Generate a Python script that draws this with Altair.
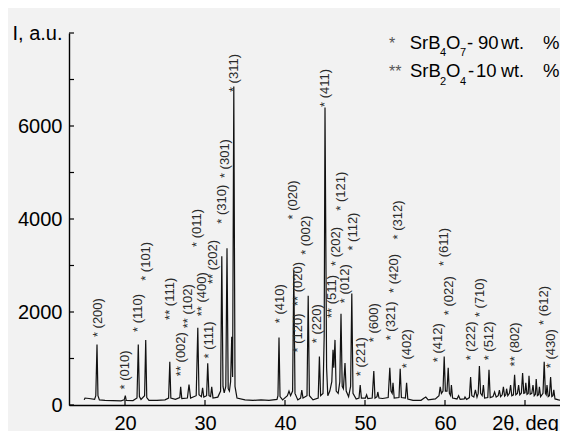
import altair as alt
import pandas as pd

# XRD pattern vertices (2theta, intensity)
pattern = [
    (14.9, 110), (15.0, 150), (15.5, 140), (16.2, 120), (16.35, 200), (16.5, 1300), (16.62, 200), (16.8, 110),
    (17.5, 100), (18.5, 95), (19.5, 90), (19.9, 110), (20.04, 200), (20.15, 100), (21.0, 95), (21.5, 150),
    (21.66, 1300), (21.8, 180), (22.0, 120), (22.45, 200), (22.59, 1400), (22.72, 160), (23.0, 100), (24.0, 100),
    (25.0, 110), (25.45, 150), (25.6, 930), (25.73, 150), (26.3, 120), (26.85, 160), (26.96, 390), (27.1, 140),
    (27.8, 150), (28.0, 440), (28.2, 150), (28.9, 200), (29.1, 1660), (29.25, 220), (29.55, 180), (29.7, 370),
    (29.85, 170), (30.2, 200), (30.34, 900), (30.5, 200), (30.7, 180), (30.84, 390), (31.0, 150), (31.6, 170),
    (31.95, 300), (32.1, 3200), (32.25, 400), (32.4, 260), (32.6, 400), (32.75, 3370), (32.9, 350), (33.05, 300),
    (33.2, 500), (33.34, 1470), (33.45, 600), (33.6, 6850), (33.75, 400), (34.0, 150), (35.0, 110), (36.0, 100),
    (37.0, 110), (38.0, 100), (39.0, 120), (39.12, 200), (39.25, 1450), (39.38, 180), (39.7, 110), (40.3, 200),
    (40.5, 300), (40.7, 200), (40.95, 300), (41.1, 2900), (41.25, 250), (41.6, 110), (41.95, 150), (42.1, 320),
    (42.25, 150), (42.75, 200), (42.9, 2350), (43.05, 200), (43.5, 110), (44.15, 150), (44.3, 1040), (44.45, 200),
    (44.75, 250), (44.9, 1500), (45.0, 6400), (45.1, 3600), (45.2, 800), (45.35, 200), (45.6, 300), (45.85, 500),
    (46.0, 1190), (46.1, 800), (46.25, 1400), (46.4, 300), (46.65, 250), (46.85, 500), (47.0, 1960), (47.15, 400),
    (47.3, 350), (47.5, 900), (47.65, 300), (47.95, 180), (48.2, 400), (48.35, 2400), (48.5, 250), (48.9, 130),
    (49.25, 150), (49.4, 430), (49.55, 150), (50.05, 150), (50.2, 220), (50.35, 140), (50.9, 150), (51.1, 730),
    (51.25, 150), (51.5, 180), (51.6, 280), (51.75, 150), (52.2, 140), (52.9, 160), (53.1, 800), (53.25, 300),
    (53.4, 250), (53.5, 475), (53.65, 150), (54.25, 160), (54.4, 780), (54.55, 160), (55.05, 150), (55.2, 475),
    (55.35, 130), (56.0, 100), (57.0, 100), (57.4, 150), (57.6, 170), (57.9, 110), (58.8, 130), (59.25, 200),
    (59.4, 390), (59.55, 250), (59.75, 300), (59.9, 1040), (60.05, 300), (60.25, 300), (60.4, 800), (60.55, 250),
    (60.7, 200), (60.8, 430), (60.95, 150), (61.5, 130), (61.7, 200), (61.9, 120), (62.4, 130), (62.5, 170),
    (62.7, 120), (63.05, 160), (63.2, 600), (63.35, 200), (63.6, 170), (63.8, 325), (64.0, 170), (64.15, 250),
    (64.3, 840), (64.45, 250), (64.65, 200), (64.8, 430), (64.95, 150), (65.35, 160), (65.5, 760), (65.65, 160),
    (66.0, 180), (66.2, 280), (66.4, 170), (66.65, 200), (66.8, 320), (66.95, 180), (67.15, 220), (67.3, 390),
    (67.45, 190), (67.6, 220), (67.7, 350), (67.85, 200), (68.05, 250), (68.2, 430), (68.35, 200), (68.55, 220),
    (68.7, 650), (68.85, 220), (69.05, 250), (69.2, 430), (69.35, 220), (69.55, 260), (69.7, 690), (69.85, 250),
    (70.0, 260), (70.1, 475), (70.25, 230), (70.4, 250), (70.5, 630), (70.65, 230), (70.85, 250), (71.0, 430),
    (71.15, 200), (71.3, 230), (71.4, 560), (71.55, 200), (71.7, 220), (71.8, 390), (71.95, 180), (72.25, 250),
    (72.4, 930), (72.55, 250), (72.65, 220), (72.75, 430), (72.9, 180), (73.05, 200), (73.2, 600), (73.35, 180),
    (73.5, 200), (73.6, 325), (73.75, 130), (74.2, 110), (74.6, 100),
]
two_theta = [p[0] for p in pattern]
intensity = [p[1] for p in pattern]

# peak annotations: text, 2theta, intensity where label starts
label_text = ["* (200)", "* (010)", "* (110)", "* (101)", "** (111)", "** (002)", "** (102)", "* (011)",
              "** (400)", "* (111)", "** (202)", "* (310)", "* (301)", "* (311)", "* (410)", "* (020)",
              "** (020)", "* (120)", "* (002)", "* (220)", "* (411)", "** (511)", "* (202)", "* (121)",
              "* (012)", "* (112)", "* (221)", "* (600)", "* (321)", "* (420)", "* (312)", "* (402)",
              "* (412)", "* (611)", "* (022)", "* (222)", "* (710)", "* (512)", "** (802)", "* (612)", "* (430)"]
label_x = [16.6, 20.05, 21.6, 22.6, 25.6, 27.0, 27.9, 29.0,
           29.6, 30.5, 31.05, 32.1, 32.5, 33.6, 39.4, 41.0,
           41.6, 41.6, 42.6, 44.0, 45.0, 45.9, 46.4, 47.0,
           47.5, 48.5, 49.55, 51.1, 53.25, 53.6, 54.1, 55.25,
           59.1, 59.9, 60.45, 63.25, 64.4, 65.5, 68.75, 72.4, 73.25]
label_y = [1460, 335, 1570, 2670, 1830, 620, 1650, 3400,
           1910, 1000, 2600, 3900, 4880, 6730, 1760, 3990,
           2130, 1130, 3230, 1330, 6410, 1870, 2990, 4180,
           2190, 3320, 620, 1350, 1390, 2410, 3560, 790,
           920, 2990, 1930, 960, 1890, 960, 830, 1720, 790]

# legend text pieces (main text, subscripts, small units)
legend_text = ["*", "SrB", "4", "O", "7", "-", "90", "wt.", "%",
               "**", "SrB", "2", "O", "4", "-", "10", "wt.", "%"]
legend_x = [53.0, 55.59, 59.375, 60.125, 61.875, 62.75, 64.125, 67.0, 72.25,
            53.0, 55.625, 59.375, 60.125, 61.875, 62.875, 63.875, 67.0, 72.25]
legend_y = [7649, 7649, 7495, 7649, 7495, 7649, 7649, 7649, 7649,
            7047, 7047, 6871, 7047, 6871, 7047, 7047, 7047, 7047]
legend_size = [16, 18.5, 11, 18.5, 11, 18.5, 18.5, 18, 18.5,
               16, 18.5, 11, 18.5, 11, 18.5, 18.5, 18, 18.5]
legend_color = ["#555555", "#000000", "#000000", "#000000", "#000000", "#000000", "#000000", "#000000", "#000000",
                "#555555", "#000000", "#000000", "#000000", "#000000", "#000000", "#000000", "#000000", "#000000"]

x_ticks = [20, 30, 40, 50, 60, 70]
y_labels = [0, 2000, 4000, 6000, 8000]
y_minor = [0, 1000, 2000, 3000, 4000, 5000, 6000, 7000, 8000]

FONT = "Liberation Sans"
df = pd.DataFrame({"tt": two_theta, "I": intensity})
lab = pd.DataFrame({"t": label_text, "x": label_x, "y": label_y})
leg = pd.DataFrame({"t": legend_text, "x": legend_x, "y": legend_y, "s": legend_size, "c": legend_color})

xs = alt.Scale(domain=[13, 74.375], nice=False, zero=False)
ys = alt.Scale(domain=[0, 8000], nice=False)

line = alt.Chart(df).mark_line(color="#111111", strokeWidth=1.2, clip=True).encode(
    x=alt.X("tt:Q", scale=xs, axis=alt.Axis(
        values=x_ticks, title=None, grid=False, ticks=False, labelPadding=8,
        labelFontSize=20, labelFont=FONT, labelColor="#000000", domainColor="#000000", domainWidth=1.4,
        labelExpr="datum.value == 70 ? '2\u03b8, deg' : datum.label")),
    y=alt.Y("I:Q", scale=ys, axis=alt.Axis(
        values=y_labels, title=None, grid=False, ticks=False, labelPadding=7, format="d",
        labelFontSize=20, labelFont=FONT, labelColor="#000000", domainColor="#000000", domainWidth=1.4,
        labelExpr="datum.value == 8000 ? 'I, a.u.' : datum.label")),
)

yt = alt.Chart(pd.DataFrame({"v": y_minor})).mark_rule(color="#000000", strokeWidth=1.2).encode(
    y=alt.Y("v:Q", scale=ys), x=alt.value(0), x2=alt.value(5))
xt = alt.Chart(pd.DataFrame({"v": x_ticks})).mark_rule(color="#000000", strokeWidth=1.2).encode(
    x=alt.X("v:Q", scale=xs), y=alt.value(372), y2=alt.value(367))

labels = alt.Chart(lab).mark_text(angle=270, align="left", baseline="middle", fontSize=13,
                                  font=FONT, color="#2a2a2a").encode(
    x=alt.X("x:Q", scale=xs), y=alt.Y("y:Q", scale=ys), text="t:N")

legend = alt.Chart(leg).mark_text(align="left", baseline="alphabetic", font=FONT).encode(
    x=alt.X("x:Q", scale=xs), y=alt.Y("y:Q", scale=ys), text="t:N",
    size=alt.Size("s:Q", scale=None), color=alt.Color("c:N", scale=None))

chart = alt.layer(line, yt, xt, labels, legend).properties(
    width=491, height=372,
    autosize=alt.AutoSizeParams(type="none"),
    padding={"left": 61, "top": 25, "right": 0, "bottom": 26},
    background="#f2f2f2",
).configure_view(stroke=None)

chart.save("out.html", embed_options={"renderer": "svg", "actions": False})
